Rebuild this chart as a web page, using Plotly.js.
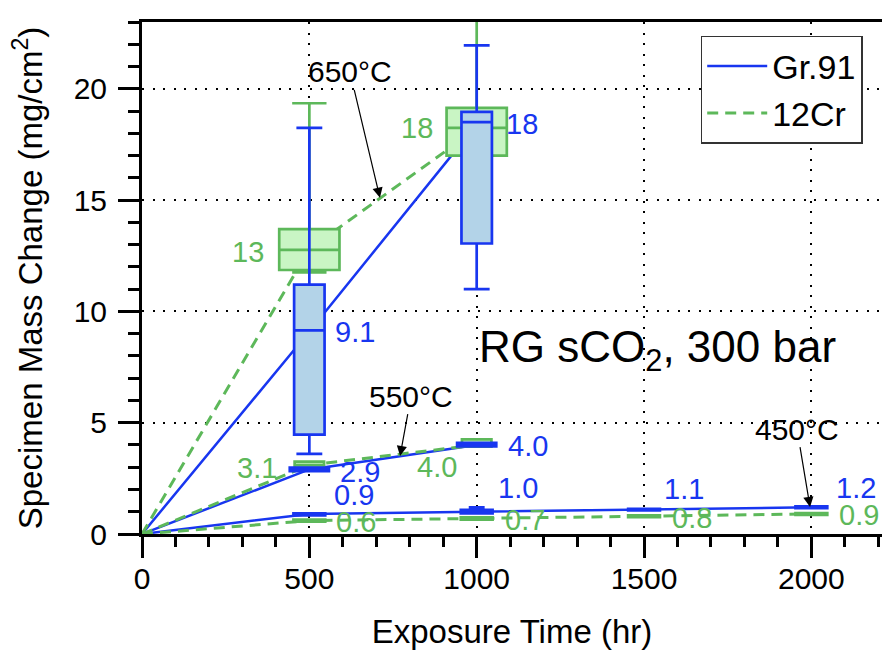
<!DOCTYPE html>
<html>
<head>
<meta charset="utf-8">
<script src="https://cdn.plot.ly/plotly-3.0.1.min.js"></script>
<style>html,body{margin:0;padding:0;background:#fff;}#chart{width:882px;height:650px;}</style>
</head>
<body>
<div id="chart"></div>
<script>
// ---------- data ----------
const hours = [0, 500, 1000];
const hours450 = [0, 500, 1000, 1500, 2000];
const gr91_650 = [0, 9.1, 18.4];
const cr12_650 = [0, 12.8, 18.2];
const gr91_550 = [0, 2.9, 4.0];
const cr12_550 = [0, 3.1, 4.0];
const gr91_450 = [0, 0.9, 1.0, 1.1, 1.2];
const cr12_450 = [0, 0.6, 0.7, 0.8, 0.9];

// box statistics (650 and 550 °C at 500/1000 h, 450 °C at 500..2000 h)
const boxX = [500, 1000];
const boxX450 = [500, 1000, 1500, 2000];
const gr91_650_lo = [3.6, 11.0], gr91_650_q1 = [4.46, 13.05], gr91_650_med = [9.15, 18.5], gr91_650_q3 = [11.2, 18.96], gr91_650_hi = [18.24, 21.95];
const cr12_650_lo = [11.75, 17.0], cr12_650_q1 = [11.86, 17.0], cr12_650_med = [12.76, 18.24], cr12_650_q3 = [13.7, 19.14], cr12_650_hi = [19.35, 23.6];
const gr91_550_lo = [2.82, 3.93], gr91_550_q1 = [2.82, 3.93], gr91_550_med = [2.9, 4.0], gr91_550_q3 = [2.98, 4.1], gr91_550_hi = [2.98, 4.1];
const cr12_550_lo = [2.97, 3.92], cr12_550_q1 = [2.97, 3.92], cr12_550_med = [3.1, 4.07], cr12_550_q3 = [3.25, 4.25], cr12_550_hi = [3.25, 4.25];
const gr91_450_lo = [0.83, 0.93, 1.06, 1.16], gr91_450_q1 = [0.83, 0.93, 1.06, 1.16], gr91_450_med = [0.88, 1.0, 1.1, 1.2], gr91_450_q3 = [0.93, 1.08, 1.13, 1.24], gr91_450_hi = [0.93, 1.2, 1.13, 1.24];
const cr12_450_lo = [0.55, 0.65, 0.76, 0.86], cr12_450_q1 = [0.55, 0.65, 0.76, 0.86], cr12_450_med = [0.6, 0.7, 0.8, 0.9], cr12_450_q3 = [0.65, 0.75, 0.84, 0.94], cr12_450_hi = [0.65, 0.75, 0.84, 0.94];

const seriesNames = ['Gr.91', '12Cr'];
const xTitle = 'Exposure Time (hr)';
const yTitle = 'Specimen Mass Change (mg/cm<sup>2</sup>)';
const noteText = 'RG sCO<sub>2</sub>, 300 bar';
const tempLabels = ['650°C', '550°C', '450°C'];

// ---------- styles ----------
const BLUE = '#1836f0';
const GREEN = '#5db85a';
const BLUE_FILL = '#b3d3e8';
const GREEN_FILL = '#c9f5c4';
const FONT = 'Liberation Sans, Arial, Helvetica, sans-serif';
const XMAX = 2211, YMAX = 23;

function line(x, y, color, dash, name, show) {
  return {type:'scatter', mode:'lines', x:x, y:y, name:name, showlegend:show,
    line:{color:color, width: dash ? 3 : 2.5, dash: dash ? '11px,7px' : 'solid'},
    hoverinfo:'skip', xaxis:'x', yaxis:'y'};
}
function box(x, lo, q1, med, q3, hi, color, fill, w, ww) {
  return {type:'box', x:x, lowerfence:lo, q1:q1, median:med, q3:q3, upperfence:hi,
    width:w, whiskerwidth:ww, boxpoints:false, showlegend:false, hoverinfo:'skip',
    line:{color:color, width:2.7}, fillcolor:fill, xaxis:'x2', yaxis:'y2'};
}

const traces = [
  line(hours, gr91_650, BLUE, false, seriesNames[0], true),
  line(hours, gr91_550, BLUE, false, seriesNames[0], false),
  line(hours450, gr91_450, BLUE, false, seriesNames[0], false),
  line(hours, cr12_650, GREEN, true, seriesNames[1], true),
  line(hours, cr12_550, GREEN, true, seriesNames[1], false),
  line(hours450, cr12_450, GREEN, true, seriesNames[1], false),
  box(boxX, cr12_650_lo, cr12_650_q1, cr12_650_med, cr12_650_q3, cr12_650_hi, GREEN, GREEN_FILL, 180, 0.57),
  box(boxX, cr12_550_lo, cr12_550_q1, cr12_550_med, cr12_550_q3, cr12_550_hi, GREEN, GREEN_FILL, 88, 0.6),
  box(boxX450, cr12_450_lo, cr12_450_q1, cr12_450_med, cr12_450_q3, cr12_450_hi, GREEN, GREEN_FILL, 95, 0.5),
  box(boxX, gr91_650_lo, gr91_650_q1, gr91_650_med, gr91_650_q3, gr91_650_hi, BLUE, BLUE_FILL, 91, 0.85),
  box(boxX, gr91_550_lo, gr91_550_q1, gr91_550_med, gr91_550_q3, gr91_550_hi, BLUE, BLUE_FILL, 117, 0.6),
  box(boxX450, gr91_450_lo, gr91_450_q1, gr91_450_med, gr91_450_q3, gr91_450_hi, BLUE, BLUE_FILL, 95, 0.5)
];

// value labels
function fmt(v) { return v >= 10 ? String(Math.round(v)) : v.toFixed(1); }
const labelSets = [
  {x:hours, y:gr91_650, c:BLUE, dx:[0,46,45], dy:[0,-1,0]},
  {x:hours, y:cr12_650, c:GREEN, dx:[0,-61,-60], dy:[0,-3,1]},
  {x:hours, y:gr91_550, c:BLUE, dx:[0,51,51], dy:[0,-3,-1]},
  {x:hours, y:cr12_550, c:GREEN, dx:[0,-52,-40], dy:[0,-3,-22]},
  {x:hours450, y:gr91_450, c:BLUE, dx:[0,45,41,40,45], dy:[0,19,24,21,19]},
  {x:hours450, y:cr12_450, c:GREEN, dx:[0,47,48,48,48], dy:[0,-1,-2,-2,-1]}
];
const annotations = [];
labelSets.forEach(s => {
  s.y.forEach((v, i) => {
    if (s.x[i] === 0) return;
    annotations.push({x:s.x[i], y:v, xref:'x', yref:'y', text:fmt(v), showarrow:false,
      xshift:s.dx[i], yshift:s.dy[i], font:{family:FONT, size:29, color:s.c}});
  });
});
// temperature callouts
const tempPos = [
  {x:711, y:15.1, ax:-30, ay:-126},
  {x:771, y:3.5, ax:11, ay:-60},
  {x:1996, y:1.21, ax:-13, ay:-78}
];
tempLabels.forEach((t, i) => {
  annotations.push({x:tempPos[i].x, y:tempPos[i].y, xref:'x', yref:'y', text:t,
    showarrow:true, ax:tempPos[i].ax, ay:tempPos[i].ay, arrowhead:2, arrowsize:1.7,
    arrowwidth:1.2, arrowcolor:'#000', standoff:0, startstandoff:0,
    font:{family:FONT, size:30, color:'#000'}});
});
annotations.push({x:0.697, y:0.36, xref:'paper', yref:'paper', text:noteText, showarrow:false,
  xanchor:'center', yanchor:'middle', font:{family:FONT, size:44, color:'#000'}});

const gridDash = '2px,8.5px';
const layout = {
  width:882, height:650,
  margin:{l:142, r:0, t:22, b:116},
  paper_bgcolor:'#fff', plot_bgcolor:'#fff',
  font:{family:FONT, color:'#000'},
  boxmode:'overlay',
  showlegend:true,
  legend:{x:0.755, y:0.973, xanchor:'left', yanchor:'top', bgcolor:'#fff',
    bordercolor:'#333', borderwidth:1.5, font:{family:FONT, size:34, color:'#000'},
    tracegroupgap:0, itemwidth:60},
  xaxis:{range:[0, XMAX], tick0:0, dtick:500, ticks:'outside', ticklen:21, tickwidth:3,
    tickcolor:'#000', showline:true, linewidth:3, linecolor:'#000', mirror:true,
    zeroline:false, showgrid:true, gridcolor:'#000', gridwidth:2, griddash:gridDash,
    tickfont:{family:FONT, size:30, color:'#000'}, ticklabelstandoff:-5,
    minor:{dtick:100, ticks:'outside', ticklen:10, tickwidth:3, tickcolor:'#000', showgrid:false},
    title:{text:xTitle, font:{family:FONT, size:33, color:'#000'}, standoff:30},
    fixedrange:true},
  yaxis:{range:[0, YMAX], tick0:0, dtick:5, ticks:'outside', ticklen:21, tickwidth:3,
    tickcolor:'#000', showline:true, linewidth:3, linecolor:'#000', mirror:false,
    zeroline:false, showgrid:true, gridcolor:'#000', gridwidth:2, griddash:gridDash,
    tickfont:{family:FONT, size:30, color:'#000'}, ticklabelstandoff:5,
    minor:{dtick:1, ticks:'outside', ticklen:11, tickwidth:3, tickcolor:'#000', showgrid:false},
    title:{text:yTitle, font:{family:FONT, size:33, color:'#000'}, standoff:22},
    fixedrange:true},
  xaxis2:{range:[0, XMAX], overlaying:'x', anchor:'y2', visible:false, fixedrange:true},
  yaxis2:{range:[0, YMAX], overlaying:'y', anchor:'x2', visible:false, fixedrange:true},
  annotations:annotations
};

Plotly.newPlot('chart', traces, layout, {displayModeBar:false, staticPlot:true});
</script>
</body>
</html>
